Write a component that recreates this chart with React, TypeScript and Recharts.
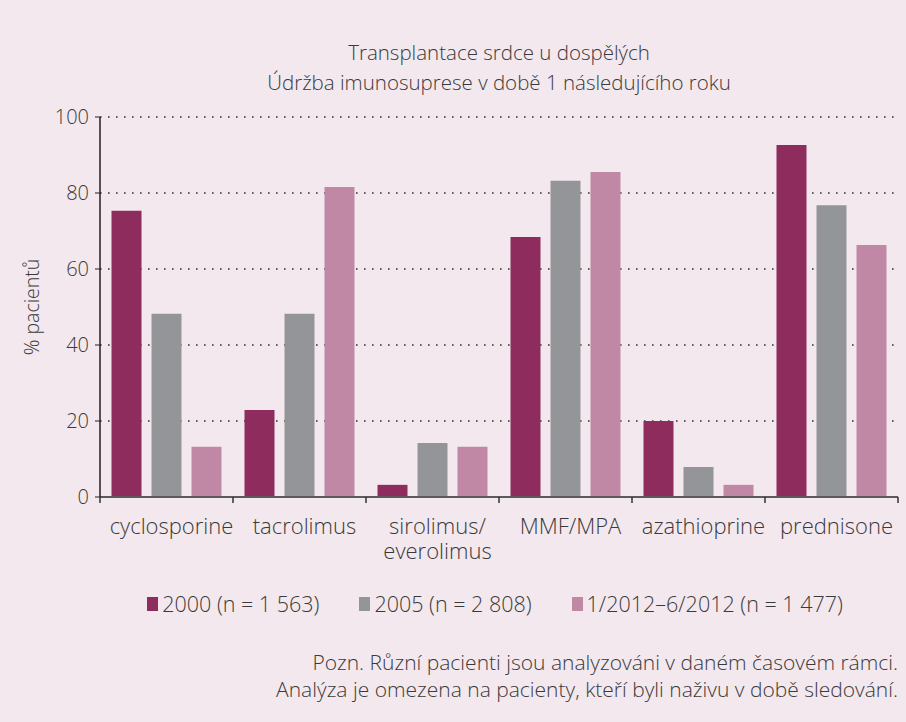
import React from 'react';
import { BarChart, Bar, XAxis, YAxis, CartesianGrid, Legend } from 'recharts';

const categories = ['cyclosporine', 'tacrolimus', 'sirolimus/\neverolimus', 'MMF/MPA', 'azathioprine', 'prednisone'];
const s2000 = [75.3, 22.9, 3.2, 68.4, 20.0, 92.6];
const s2005 = [48.2, 48.2, 14.2, 83.2, 7.9, 76.8];
const s2012 = [13.2, 81.6, 13.2, 85.5, 3.2, 66.3];
const yTicks = [0, 20, 40, 60, 80, 100];
const seriesNames = ['2000 (n = 1 563)', '2005 (n = 2 808)', '1/2012–6/2012 (n = 1 477)'];
const seriesColors = ['#8e2c5e', '#949598', '#c088a4'];
const titleLines = ['Transplantace srdce u dospělých', 'Údržba imunosuprese v době 1 následujícího roku'];
const noteLines = ['Pozn. Různí pacienti jsou analyzováni v daném časovém rámci.', 'Analýza je omezena na pacienty, kteří byli naživu v době sledování.'];
const yLabel = '% pacientů';

const data = categories.map((c, i) => ({ name: c, a: s2000[i], b: s2005[i], c: s2012[i] }));

const FONT = "'Open Sans', sans-serif";
const W = 300;
const TEXT = '#3a3a3a';
const BG = '#f3e8ee';

const CatTick = (props: any) => {
  const { x, y, payload, index } = props;
  const off = payload.offset || 0;
  const lines = String(payload.value).split('\n');
  const last = index === categories.length - 1;
  return (
    <g>
      <line x1={x - off} x2={x - off} y1={y} y2={y + 6} stroke="#333" strokeWidth={1.5} />
      {last && <line x1={x + off} x2={x + off} y1={y} y2={y + 6} stroke="#333" strokeWidth={1.5} />}
      <text x={x + 5} y={y + 37} textAnchor="middle" fill={TEXT} fontSize={22} fontWeight={W} fontFamily={FONT}>
        {lines.map((l, i) => (
          <tspan key={i} x={x + 5} dy={i === 0 ? 0 : 25}>{l}</tspan>
        ))}
      </text>
    </g>
  );
};

const LegendContent = () => (
  <div style={{ display: 'flex', justifyContent: 'center', gap: 40, fontFamily: FONT, fontSize: 21.5, fontWeight: W, color: TEXT, marginLeft: 96, width: 798 }}>
    {seriesNames.map((n, i) => (
      <div key={i} style={{ display: 'flex', alignItems: 'center' }}>
        <span style={{ display: 'inline-block', width: 11, height: 14, background: seriesColors[i], marginRight: 4 }} />
        <span>{n}</span>
      </div>
    ))}
  </div>
);

export default function App() {
  return (
    <div style={{ position: 'absolute', left: 0, top: 0, width: 906, height: 722, background: BG, fontFamily: FONT, fontWeight: W }}>
      <div style={{ position: 'absolute', left: 100, top: 37, width: 798, textAlign: 'center', fontSize: 20.5, lineHeight: '30px', color: TEXT }}>
        {titleLines.map((t, i) => <div key={i}>{t}</div>)}
      </div>
      <BarChart width={906} height={722} data={data} margin={{ top: 117, right: 8, bottom: 136, left: 30 }} barCategoryGap={11.5} barGap={10}>
        <CartesianGrid vertical={false} stroke="#333" strokeDasharray="1.6 6.4" strokeWidth={1.6} />
        <XAxis dataKey="name" height={60} interval={0} tickSize={0} tickMargin={0} tickLine={false} axisLine={{ stroke: '#5d5a5b', strokeWidth: 2 }} tick={<CatTick />} />
        <YAxis width={70} domain={[0, 100]} ticks={yTicks} tickSize={5} tickMargin={6} axisLine={{ stroke: '#231f20', strokeWidth: 1.5 }} tickLine={{ stroke: '#231f20' }} tick={{ fill: TEXT, fontSize: 20, fontWeight: W, fontFamily: FONT }} label={{ value: yLabel, angle: -90, position: 'insideLeft', offset: 2, style: { textAnchor: 'middle', fill: TEXT, fontSize: 19.5, fontWeight: W, fontFamily: FONT } }} />
        <Legend content={<LegendContent />} wrapperStyle={{ top: 589, left: 0, width: 906 }} />
        <Bar dataKey="a" name={seriesNames[0]} fill={seriesColors[0]} isAnimationActive={false} />
        <Bar dataKey="b" name={seriesNames[1]} fill={seriesColors[1]} isAnimationActive={false} />
        <Bar dataKey="c" name={seriesNames[2]} fill={seriesColors[2]} isAnimationActive={false} />
      </BarChart>
      <div style={{ position: 'absolute', right: 8, top: 649, textAlign: 'right', fontSize: 21, lineHeight: '27px', color: TEXT }}>
        {noteLines.map((t, i) => <div key={i}>{t}</div>)}
      </div>
    </div>
  );
}
